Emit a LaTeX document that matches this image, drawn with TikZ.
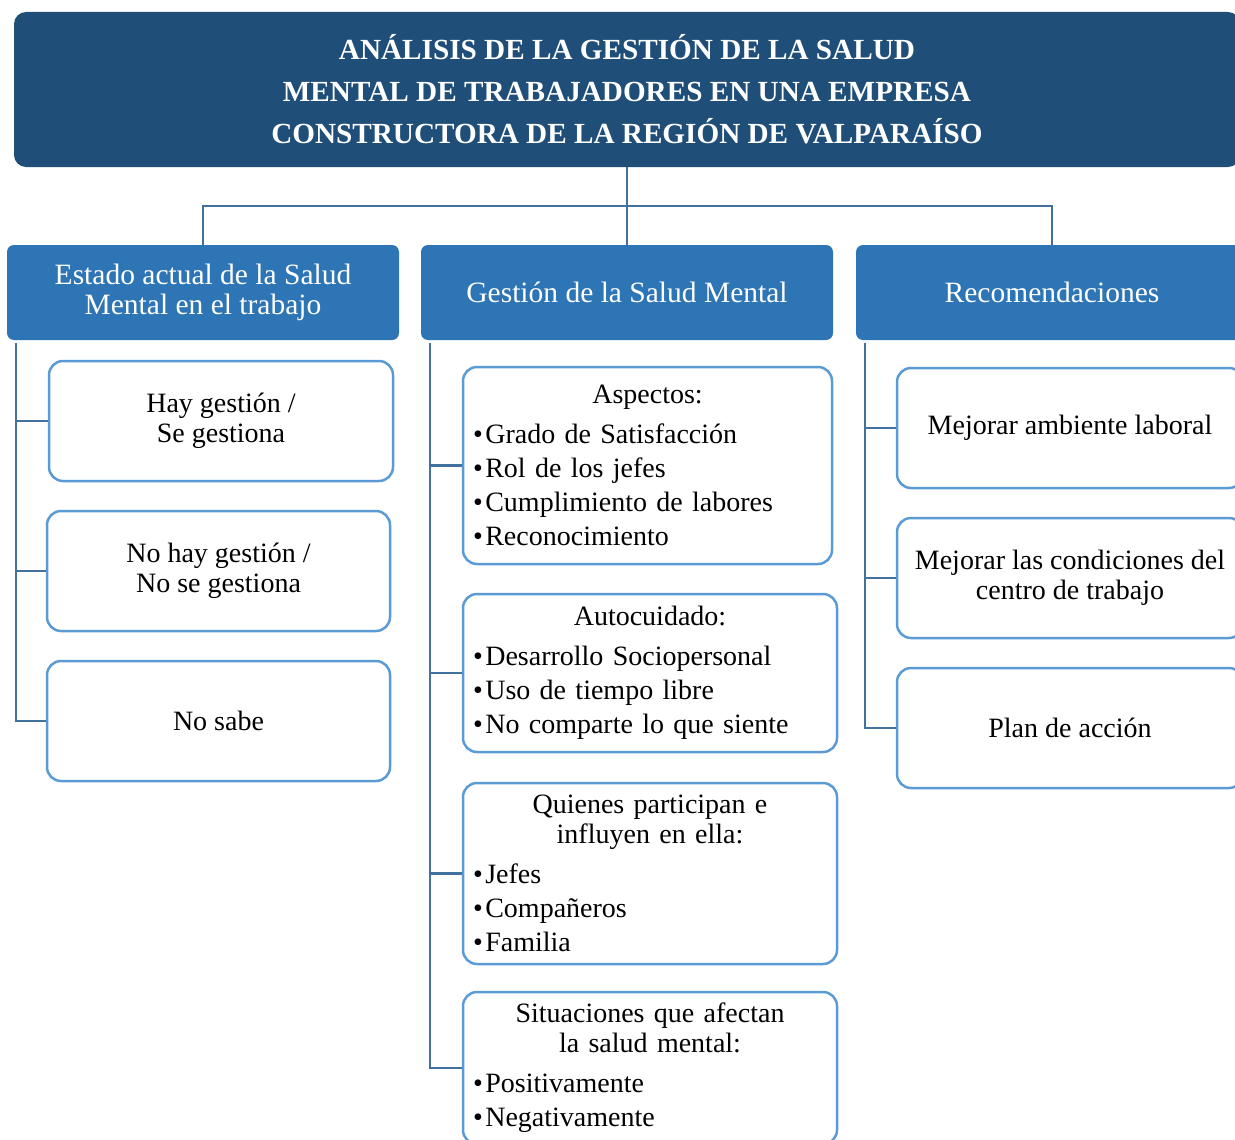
\documentclass[tikz,border=0pt]{standalone}
\usepackage{fontspec}
\setmainfont{Liberation Serif}
\definecolor{darkblue}{RGB}{31,78,121}
\definecolor{midblue}{RGB}{46,117,182}
\definecolor{lightblue}{RGB}{91,155,213}
\definecolor{linkblue}{RGB}{65,113,156}
% heading of a list box: centred title, then left-aligned bullet lines
\newcommand{\boxhead}[1]{\centering #1\par\raggedright\fontsize{28}{34}\selectfont\vspace{6pt}}
\newcommand{\bul}{\textbullet\kern2.5pt}

\begin{document}
\begin{tikzpicture}[x=1pt,y=1pt,
	titlebox/.style={fill=darkblue, rounded corners=12pt, text=white, align=center,
		font=\bfseries\fontsize{29.2}{42}\selectfont, minimum width=1226pt, minimum height=155pt, inner sep=0pt},
	headbox/.style={fill=midblue, rounded corners=7pt, text=white, align=center,
		font=\fontsize{29.5}{30}\selectfont, minimum height=95pt, inner sep=0pt},
	itembox/.style={draw=lightblue, line width=2.5pt, fill=white, rounded corners=14pt, align=center,
		font=\fontsize{28}{30}\selectfont, minimum height=120pt, inner sep=0pt},
	listbox/.style={draw=lightblue, line width=2.5pt, fill=white, rounded corners=14pt,
		font=\fontsize{28}{30}\selectfont, inner xsep=10pt, inner ysep=0pt},
	link/.style={draw=linkblue, line width=2.8pt}]
	\useasboundingbox (0,0) rectangle (1235,-1140);
	% title
	\node[titlebox] (title) at (627,-89.5) {AN\'ALISIS DE LA GESTI\'ON DE LA SALUD\\MENTAL DE TRABAJADORES EN UNA EMPRESA\\CONSTRUCTORA DE LA REGI\'ON DE VALPARA\'ISO};
	% the three branches
	\node[headbox, minimum width=392pt] (estado) at (203,-292.5) {Estado actual de la Salud\\[0pt]Mental en el trabajo};
	\node[headbox, minimum width=412pt] (gestion) at (627,-292.5) {Gesti\'on de la Salud Mental};
	\node[headbox, minimum width=392pt] (recom) at (1052,-292.5) {Recomendaciones};
	\coordinate (bus) at (627,-206);
	\draw[link] (title.south) -- (gestion.north);
	\draw[link] (estado.north) -- (estado.north |- bus) -- (recom.north |- bus) -- (recom.north);
	% left column
	\node[itembox, minimum width=344pt] (hay) at (221,-421) {Hay gesti\'on /\\Se gestiona};
	\node[itembox, minimum width=343pt] (nohay) at (218.5,-571) {No hay gesti\'on /\\No se gestiona};
	\node[itembox, minimum width=343pt] (nosabe) at (218.5,-721) {No sabe};
	\coordinate (lbar) at (16,-343);
	\draw[link] (lbar) |- (nosabe.west);
	\draw[link] (lbar |- hay.west) -- (hay.west);
	\draw[link] (lbar |- nohay.west) -- (nohay.west);
	% middle column
	\node[listbox, text width=349pt, minimum height=197pt] (aspectos) at (647.5,-465.5)
		{\boxhead{Aspectos:}\bul Grado de Satisfacci\'on\par\bul Rol de los jefes\par\bul Cumplimiento de labores\par\bul Reconocimiento\par\vspace{6pt}};
	\node[listbox, text width=354pt, minimum height=158pt] (autocuid) at (650,-673)
		{\boxhead{Autocuidado:}\bul Desarrollo Sociopersonal\par\bul Uso de tiempo libre\par\bul No comparte lo que siente\par};
	\node[listbox, text width=354pt, minimum height=181pt] (quienes) at (650,-873.5)
		{\boxhead{Quienes participan e\\influyen en ella:}\bul Jefes\par\bul Compa\~neros\par\bul Familia\par};
	\node[listbox, text width=354pt, minimum height=152pt] (situac) at (650,-1068)
		{\boxhead{Situaciones que afectan\\la salud mental:}\bul Positivamente\par\bul Negativamente\par};
	\coordinate (mbar) at (430,-343);
	\draw[link] (mbar) |- (situac.west);
	\draw[link] (mbar |- aspectos.west) -- (aspectos.west);
	\draw[link] (mbar |- autocuid.west) -- (autocuid.west);
	\draw[link] (mbar |- quienes.west) -- (quienes.west);
	% right column
	\node[itembox, minimum width=346pt] (ambiente) at (1070,-428) {Mejorar ambiente laboral};
	\node[itembox, minimum width=346pt] (condic) at (1070,-578) {Mejorar las condiciones del\\centro de trabajo};
	\node[itembox, minimum width=346pt] (plan) at (1070,-728) {Plan de acci\'on};
	\coordinate (rbar) at (865,-343);
	\draw[link] (rbar) |- (plan.west);
	\draw[link] (rbar |- ambiente.west) -- (ambiente.west);
	\draw[link] (rbar |- condic.west) -- (condic.west);
\end{tikzpicture}
\end{document}
